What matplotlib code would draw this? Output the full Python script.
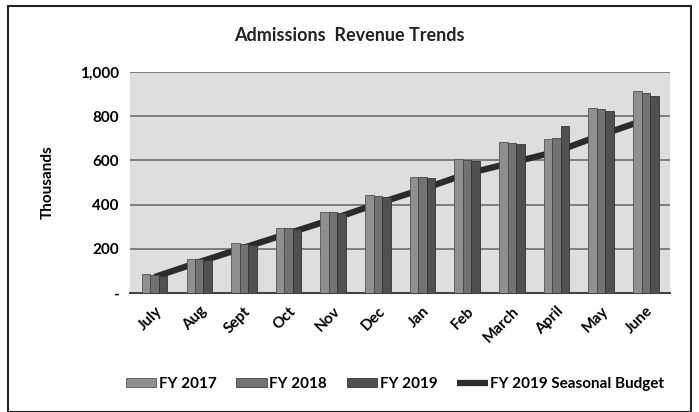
import matplotlib
matplotlib.use("Agg")
import matplotlib.pyplot as plt
import numpy as np
from matplotlib.patches import Rectangle
from matplotlib.ticker import FuncFormatter

months = ["July", "Aug", "Sept", "Oct", "Nov", "Dec", "Jan", "Feb", "March", "April", "May", "June"]
fy2017 = [85, 155, 225, 295, 368, 445, 525, 605, 682, 695, 838, 914]
fy2018 = [82, 153, 222, 292, 365, 440, 523, 602, 680, 700, 832, 905]
fy2019 = [78, 150, 218, 288, 362, 436, 520, 598, 676, 755, 823, 891]
budget = [72, 140, 205, 270, 335, 405, 470, 540, 590, 640, 715, 785]
yticks = [0, 200, 400, 600, 800, 1000]

plt.rcParams['font.family'] = ['Lato', 'DejaVu Sans']

fig = plt.figure(figsize=(6.99, 4.12), dpi=100)
fig.patches.append(Rectangle((0.012, 0.0), 0.976, 0.985, transform=fig.transFigure,
                             fill=False, edgecolor="#222222", linewidth=1.5))
ax = fig.add_axes([0.186, 0.289, 0.773, 0.536])
ax.set_facecolor("#dedede")

x = np.arange(len(months))
w = 0.19
b1 = ax.bar(x - w, fy2017, w, color="#8f8f8f", edgecolor="#555555", linewidth=0.6, label="FY 2017", zorder=3)
b2 = ax.bar(x, fy2018, w, color="#727272", edgecolor="#444444", linewidth=0.6, label="FY 2018", zorder=3)
b3 = ax.bar(x + w, fy2019, w, color="#505050", edgecolor="#333333", linewidth=0.6, label="FY 2019", zorder=3)
ln, = ax.plot(x, budget, color="#2b2b2b", linewidth=4.5, label="FY 2019 Seasonal Budget", zorder=2,
              solid_capstyle="butt")

ax.set_ylim(0, 1000)
ax.set_xlim(-0.55, len(months) - 0.45)
ax.set_yticks(yticks)
ax.yaxis.set_major_formatter(FuncFormatter(lambda v, p: "-" if v == 0 else f"{int(v):,}"))
ax.grid(axis="y", color="#6e6e6e", linewidth=1.2, zorder=1)
ax.set_axisbelow(True)
for s in ["top", "right", "left"]:
    ax.spines[s].set_visible(False)
ax.spines["bottom"].set_color("#444444")
ax.spines["bottom"].set_linewidth(1.5)
ax.tick_params(axis="both", length=0, labelsize=11, pad=8)
ax.set_xticks(x)
ax.set_xticklabels(months, rotation=45, ha="right", rotation_mode="anchor", fontweight="bold")
for t in ax.get_yticklabels():
    t.set_fontweight("bold")
ax.set_ylabel("Thousands", fontsize=11, fontweight="bold", labelpad=18)

fig.text(0.5, 0.915, "Admissions  Revenue Trends", ha="center", va="center",
         fontsize=13, fontweight="bold", color="#222222")

leg = fig.legend(handles=[b1, b2, b3, ln], loc="center", bbox_to_anchor=(0.565, 0.068), ncol=4,
                 frameon=False, prop={"weight": "bold", "size": 11}, handlelength=2.0,
                 handleheight=0.6, handletextpad=0.15, columnspacing=1.3)

fig.savefig("out.png", dpi=100)
